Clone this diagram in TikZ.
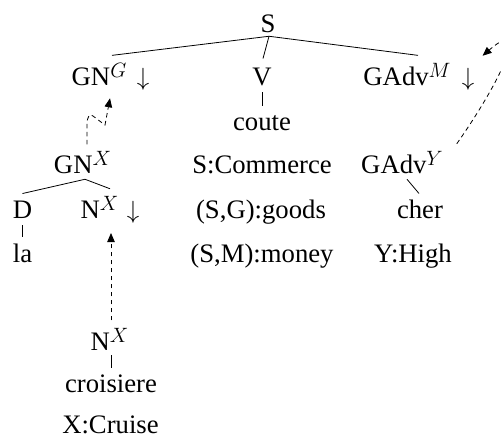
\documentclass[tikz,border=0pt]{standalone}
\usepackage{fontspec}
\setmainfont{Liberation Serif}
\usetikzlibrary{arrows.meta}
\newcommand\supit[1]{\raisebox{0.28em}{\fontsize{19.5}{19.5}\selectfont$#1$}}
\begin{document}
\begin{tikzpicture}[x=1pt,y=-1pt,
  lbl/.style={anchor=base,inner sep=0pt,outer sep=0pt,font=\fontsize{26.7}{32}\selectfont},
  treeedge/.style={line width=0.8pt},
  dlink/.style={line width=0.8pt,dash pattern=on 4.5pt off 3.5pt,-{Triangle[length=9pt,width=7.5pt]}}
]
\clip (0,0) rectangle (501,437);
% top level
\node[lbl] (S) at (268,32) {S};
\node[lbl] (GNG) at (99,85) {GN\supit{G}};
\node[lbl] (aG) at (143,85) {$\downarrow$};
\node[lbl] (V) at (262,85) {V};
\node[lbl] (GAdvM) at (407,85) {GAdv\supit{M}};
\node[lbl] (aM) at (468,85) {$\downarrow$};
\node[lbl] (coute) at (262,130) {coute};
% second level
\node[lbl] (GNX) at (82.5,173) {GN\supit{X}};
\node[lbl] (SC) at (262,173) {S:Commerce};
\node[lbl] (GAdvY) at (402,173) {GAdv\supit{Y}};
\node[lbl] (D) at (22.5,218) {D};
\node[lbl] (NX) at (99.5,218) {N\supit{X}};
\node[lbl] (aX) at (133,218) {$\downarrow$};
\node[lbl] (SG) at (261,218) {(S,G):goods};
\node[lbl] (cher) at (420,218) {cher};
\node[lbl] (la) at (22.5,262) {la};
\node[lbl] (SM) at (262,262) {(S,M):money};
\node[lbl] (YH) at (413,262) {Y:High};
% bottom tree
\node[lbl] (NXl) at (109.5,350) {N\supit{X}};
\node[lbl] (cro) at (111,392) {croisiere};
\node[lbl] (XC) at (110.5,433) {X:Cruise};
% tree edges
\draw[treeedge] ([xshift=1pt,yshift=-4pt]S.south) -- ([xshift=13pt,yshift=8pt]GNG.north);
\draw[treeedge] ([xshift=1pt,yshift=-4pt]S.south) -- ([xshift=1pt,yshift=9pt]V.north);
\draw[treeedge] ([xshift=1pt,yshift=-4pt]S.south) -- ([xshift=11pt,yshift=8pt]GAdvM.north);
\draw[treeedge] ([yshift=-7pt]V.south) -- ([yshift=9pt]coute.north);
\draw[treeedge] ([xshift=2.5pt,yshift=-6pt]GNX.south) -- ([yshift=7pt]D.north);
\draw[treeedge] ([xshift=2.5pt,yshift=-6pt]GNX.south) -- ([xshift=10.5pt,yshift=7.6pt]NX.north);
\draw[treeedge] ([yshift=-7pt]D.south) -- ([yshift=6.5pt]la.north);
\draw[treeedge] ([xshift=5pt,yshift=-6pt]GAdvY.south) -- ([xshift=-1pt,yshift=6pt]cher.north);
\draw[treeedge] ([xshift=1.5pt,yshift=-5pt]NXl.south) -- ([yshift=6pt]cro.north);
% dashed links
\draw[dlink] ([xshift=1.5pt,yshift=8pt]NXl.north) -- ([xshift=11.5pt,yshift=-15pt]NX.south);
\draw[dlink] ([xshift=4.5pt,yshift=7pt]GNX.north) -- (87,125) .. controls (87,116) and (90,113) .. (93,116) -- (105,125) -- ([xshift=11pt,yshift=-13pt]GNG.south);
\draw[dlink] ([xshift=14pt,yshift=7.6pt]GAdvY.north east) .. controls (505,75) and (530,15) .. ([xshift=32pt,yshift=7.6pt]GAdvM.north east);
\end{tikzpicture}
\end{document}
